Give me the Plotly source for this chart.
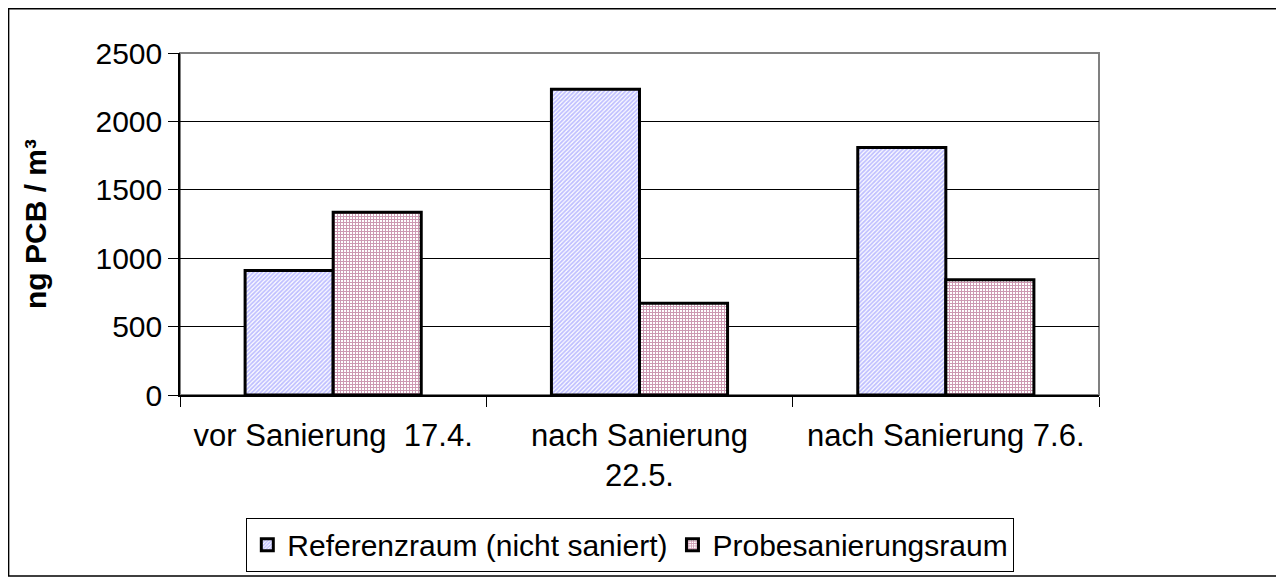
import plotly.graph_objects as go

categories = ["vor Sanierung\u00a0\u00a017.4.", "nach Sanierung<br>22.5.", "nach Sanierung 7.6."]
referenz = [910, 2235, 1810]
probe = [1335, 670, 842]
series_names = ["Referenzraum (nicht saniert)", "Probesanierungsraum"]
y_ticks = [0, 500, 1000, 1500, 2000, 2500]

FONT = "Liberation Sans, Arial, sans-serif"

fig = go.Figure()
fig.add_trace(
    go.Bar(
        x=categories,
        y=referenz,
        name=series_names[0],
        marker=dict(
            color="white",
            line=dict(color="black", width=3),
            pattern=dict(shape="/", fgcolor="#8080ff", bgcolor="white", size=3, solidity=0.6),
        ),
    )
)
fig.add_trace(
    go.Bar(
        x=categories,
        y=probe,
        name=series_names[1],
        marker=dict(
            color="white",
            line=dict(color="black", width=3),
            pattern=dict(shape="+", fgcolor="#993366", bgcolor="white", size=3, solidity=0.55),
        ),
    )
)

# page body has an 8px margin, so the figure is drawn 8px in from the window edge
fig.update_layout(
    width=1276,
    height=575,
    margin=dict(l=172, r=185, t=45, b=187),
    paper_bgcolor="white",
    plot_bgcolor="white",
    font=dict(family=FONT, size=30, color="black"),
    barmode="group",
    bargap=0.425,
    bargroupgap=0,
    showlegend=True,
    legend=dict(
        orientation="h",
        x=0.49,
        xanchor="center",
        y=-0.355,
        yanchor="top",
        bordercolor="black",
        borderwidth=1,
        font=dict(size=30),
        itemwidth=30,
    ),
    shapes=[
        # plot area frame (grey top/right)
        dict(type="rect", xref="paper", yref="paper", x0=0, x1=1, y0=0, y1=1,
             line=dict(color="#808080", width=2), layer="below"),
        # outer chart border
        dict(type="rect", xref="paper", yref="paper", x0=-0.1865, x1=1.1955, y0=-0.529, y1=1.1295,
             line=dict(color="black", width=1.5)),
    ],
)

fig.update_xaxes(
    showline=True,
    linecolor="black",
    linewidth=1.5,
    ticks="outside",
    tickson="boundaries",
    ticklen=10,
    tickcolor="black",
    tickfont=dict(size=31),
    ticklabelstandoff=12,
    showgrid=False,
)
fig.update_yaxes(
    range=[0, 2500],
    tickvals=y_ticks,
    showline=True,
    linecolor="black",
    linewidth=1.5,
    ticks="outside",
    ticklen=10,
    tickcolor="black",
    showgrid=True,
    gridcolor="black",
    gridwidth=1,
    zeroline=False,
    tickfont=dict(size=30),
    title=dict(text="<b>ng PCB / m³</b>", font=dict(size=30), standoff=40),
)

fig.write_html("out.html")
